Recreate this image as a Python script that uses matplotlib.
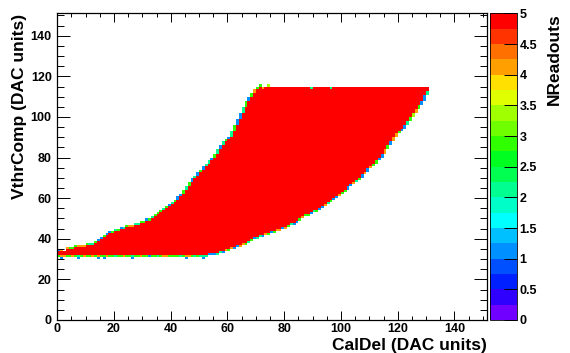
import numpy as np
import matplotlib
matplotlib.use("Agg")
import matplotlib.pyplot as plt
from matplotlib.colors import ListedColormap, BoundaryNorm
from matplotlib.ticker import MultipleLocator

# red band (NReadouts = 5): first and one-past-last VthrComp bin per CalDel column 0..130
lower = ([32] * 50 +
         [32, 32, 32, 33, 33, 33, 33, 34, 34, 35,
          35, 36, 36, 37, 37, 38, 38, 39, 40, 41,
          41, 42, 42, 43, 43, 44, 44, 45, 45, 46,
          46, 47, 48, 48, 49, 50, 51, 52, 52, 53,
          54, 54, 55, 56, 57, 58, 59, 60, 61, 62,
          63, 64, 66, 67, 68, 69, 70, 72, 73, 75,
          76, 77, 79, 80, 82, 84, 86, 88, 90, 92,
          93, 94, 96, 98, 100, 102, 104, 106, 108, 111,
          113])
upper = ([34, 34, 34, 35, 35, 35, 36, 36, 36, 36,
          37, 37, 37, 38, 39, 40, 41, 42, 43, 43,
          44, 44, 45, 45, 46, 46, 46, 47, 47, 48,
          48, 49, 49, 50, 51, 52, 53, 54, 55, 56,
          57, 58, 59, 61, 62, 64, 66, 68, 70, 71,
          73, 74, 76, 77, 79, 80, 82, 84, 86, 88,
          89, 90, 93, 96, 99, 102, 105, 108, 110, 112,
          114] + [115] * 60)

# cells hugging the band edges, one code per column (o=4.1 y=3.3 g=2.9 t=2.1 b=1.1)
edge_vals = {"o": 4.1, "y": 3.3, "g": 2.9, "t": 2.1, "b": 1.1}
upper_edge = ("bo.ogggooo" "gttgbbgbbg" "tgbtgoottg" "gbgtgggtgb" "tgbbgtgbtb"
              "gbttbgtbtg" "btgbbtgbgo" "gg..y....." ".........." ".........."
              ".........." ".........." ".........." ".")
lower_edge = ("googgogtgo" "ggogoggogg" "tggoggtggo" "ggbggtgoog" "gggtgoogtg"
              "tttbbbttbo" "gobboogtgb" "ttbogbgoob" "ogtbbgoggb" "tgbbotgbbo"
              "ggbbotgbob" "oggbbogboo" "gbbtgyogbb" "t")

# a few isolated cells
stray_x = [1, 7, 14, 16, 26, 45, 51, 72, 89, 96]
stray_y = [30, 30, 30, 30, 30, 30, 30, 114, 114, 114]
stray_v = [1.1, 1.1, 1.1, 1.1, 1.1, 1.1, 1.1, 4.1, 2.1, 2.1]

palette = ["#7000ff", "#3000ff", "#0020ff", "#0050ff", "#0090ff",
           "#00c0ff", "#00ffff", "#00ffc8", "#00ff90", "#00ff50",
           "#00ff20", "#30ff00", "#70ff00", "#a0ff00", "#e0ff00",
           "#ffe000", "#ffa000", "#ff7000", "#ff3300", "#ff0000"]
levels = np.linspace(0, 5, 21)

nbins = 151
z = np.full((nbins, nbins), np.nan)
ncol = len(lower)
for x in range(ncol):
    z[lower[x]:upper[x], x] = 5
    c = upper_edge[x]
    if c != ".":
        top = upper[x]
        nxt = upper[x + 1] if x + 1 < ncol else top
        z[top:max(top + 1, nxt), x] = edge_vals[c]
    c = lower_edge[x]
    if c != ".":
        bot = lower[x] - 1
        prev = lower[x - 1] if x > 0 else lower[x]
        z[min(prev, bot):bot + 1, x] = edge_vals[c]
for sx, sy, sv in zip(stray_x, stray_y, stray_v):
    z[sy, sx] = sv

plt.rcParams['font.family'] = ['Liberation Sans', 'DejaVu Sans']
plt.rcParams['font.weight'] = 'bold'

fig = plt.figure(figsize=(5.7, 3.53), dpi=100)
ax = fig.add_axes([0.1005, 0.0935, 0.7535, 0.8685])
cax = fig.add_axes([0.8596, 0.0935, 0.0468, 0.8685])

cmap = ListedColormap(palette)
cmap.set_over(palette[-1])
norm = BoundaryNorm(levels, cmap.N)
edges = np.arange(nbins + 1)
mesh = ax.pcolormesh(edges, edges, np.ma.masked_invalid(z), cmap=cmap, norm=norm)

ax.set_xlim(0, 151.4)
ax.set_ylim(0, 151)
ax.xaxis.set_major_locator(MultipleLocator(20))
ax.xaxis.set_minor_locator(MultipleLocator(5))
ax.yaxis.set_major_locator(MultipleLocator(20))
ax.yaxis.set_minor_locator(MultipleLocator(5))
ax.tick_params(axis='both', which='both', direction='in', top=True, right=True,
               labelsize=9, width=0.7)
ax.tick_params(axis='x', which='major', length=6.8, pad=2)
ax.tick_params(axis='x', which='minor', length=3.2)
ax.tick_params(axis='y', which='major', length=9.4, pad=4)
ax.tick_params(axis='y', which='minor', length=4.7)
for sp in ax.spines.values():
    sp.set_linewidth(0.9)
for lab in ax.get_xticklabels() + ax.get_yticklabels():
    lab.set_fontweight('bold')

ax.set_xlabel('CalDel (DAC units)', fontsize=12.5, fontweight='bold', ha='right')
ax.xaxis.set_label_coords(1.0, -0.082)
ax.xaxis.label.set_va('center')
ax.set_ylabel('VthrComp (DAC units)', fontsize=12.5, fontweight='bold')
ax.yaxis.set_label_coords(-0.087, 1.0)
ax.yaxis.label.set_ha('right')
ax.yaxis.label.set_va('center')

cb = fig.colorbar(mesh, cax=cax, ticks=np.arange(0, 5.01, 0.5))
cb.ax.set_yticklabels(['%g' % t for t in np.arange(0, 5.01, 0.5)], fontweight='bold')
cb.ax.minorticks_off()
cb.outline.set_linewidth(0.6)
cax.tick_params(direction='in', length=9.4, width=0.7, labelsize=9, pad=2)
cax.text(2.43, 1.0, 'NReadouts', rotation=90, transform=cax.transAxes,
         ha='center', va='top', fontsize=12.5, fontweight='bold')

fig.savefig('out.png', dpi=100)
